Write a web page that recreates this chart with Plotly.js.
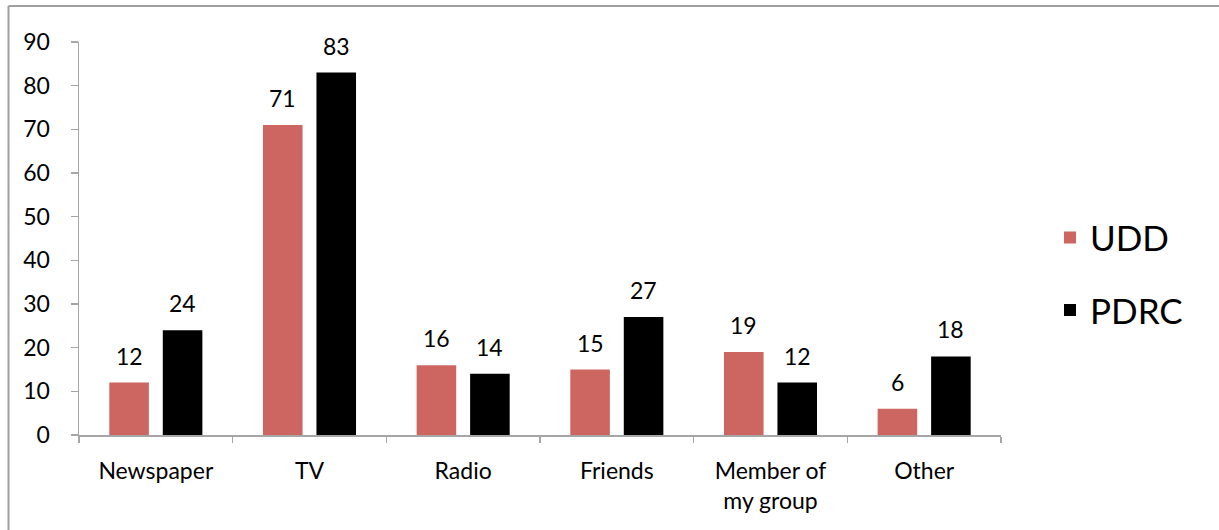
<!DOCTYPE html>
<html>
<head>
<meta charset="utf-8">
<script src="https://cdn.plot.ly/plotly-3.0.1.min.js"></script>
<style>html,body{margin:0;padding:0;background:#fff;}#chart{width:1219px;height:530px;}</style>
</head>
<body>
<div id="chart"></div>
<script>
const categories = ["Newspaper", "TV", "Radio", "Friends", "Member of<br>my group", "Other"];
const seriesNames = ["UDD", "PDRC"];
const uddValues = [12, 71, 16, 15, 19, 6];
const pdrcValues = [24, 83, 14, 27, 12, 18];
const yTicks = [0, 10, 20, 30, 40, 50, 60, 70, 80, 90];

const W = 1219, H = 530;
const M = {l: 79, r: 218, t: 42, b: 95};
const plotW = W - M.l - M.r, plotH = H - M.t - M.b;
const bargap = 0.304, bargroupgap = 0.26;
const slot = plotW / categories.length * (1 - bargap) / 2;
const FONT = "Lato, 'Open Sans', sans-serif";

const traces = [
  {type: 'bar', name: seriesNames[0], x: categories, y: uddValues,
   marker: {color: '#cd6660'}, legendgroup: 'a', hoverinfo: 'none'},
  {type: 'bar', name: seriesNames[1], x: categories, y: pdrcValues,
   marker: {color: '#000000'}, legendgroup: 'b', hoverinfo: 'none'}
];

const annotations = [];
[uddValues, pdrcValues].forEach((vals, si) => {
  vals.forEach((v, i) => {
    annotations.push({
      x: categories[i], y: v, xref: 'x', yref: 'y', text: String(v),
      showarrow: false, xshift: (si === 0 ? -1 : 1) * slot / 2,
      yanchor: 'middle', yshift: 27,
      font: {family: FONT, size: 23, color: '#000'}
    });
  });
});

const px2x = p => (p - M.l) / plotW;
const py2y = p => 1 - (p - M.t) / plotH;

const layout = {
  width: W, height: H,
  margin: M,
  paper_bgcolor: '#fff', plot_bgcolor: '#fff',
  barmode: 'group', bargap: bargap, bargroupgap: bargroupgap,
  font: {family: FONT, size: 23, color: '#000'},
  showlegend: true,
  legend: {x: px2x(1050), xanchor: 'left', y: 0.41, yanchor: 'middle',
           font: {family: FONT, size: 35, color: '#000'}, tracegroupgap: 24,
           bgcolor: 'rgba(0,0,0,0)'},
  xaxis: {
    tickmode: 'array', tickvals: categories, ticktext: categories,
    tickson: 'boundaries', ticks: 'outside', ticklen: 6, tickcolor: '#a6a6a6', tickwidth: 1.5,
    showline: true, linecolor: '#a6a6a6', linewidth: 1.5, showgrid: false,
    tickfont: {family: FONT, size: 23, color: '#000'}, ticklabelstandoff: 15,
    fixedrange: true
  },
  yaxis: {
    range: [0, 90], tickmode: 'array', tickvals: yTicks,
    ticks: 'outside', ticklen: 7, tickcolor: '#a6a6a6', tickwidth: 1.5,
    showline: true, linecolor: '#a6a6a6', linewidth: 1.5, showgrid: false, zeroline: false,
    tickfont: {family: FONT, size: 23, color: '#000'}, ticklabelstandoff: 16,
    fixedrange: true
  },
  annotations: annotations,
  shapes: [
    {type: 'line', xref: 'paper', yref: 'paper', x0: px2x(8.5), x1: px2x(1225), y0: py2y(6), y1: py2y(6),
     line: {color: '#a0a0a0', width: 2}},
    {type: 'line', xref: 'paper', yref: 'paper', x0: px2x(8.5), x1: px2x(8.5), y0: py2y(6), y1: py2y(540),
     line: {color: '#a0a0a0', width: 2}}
  ]
};

Plotly.newPlot('chart', traces, layout, {displayModeBar: false, staticPlot: true});
</script>
</body>
</html>
